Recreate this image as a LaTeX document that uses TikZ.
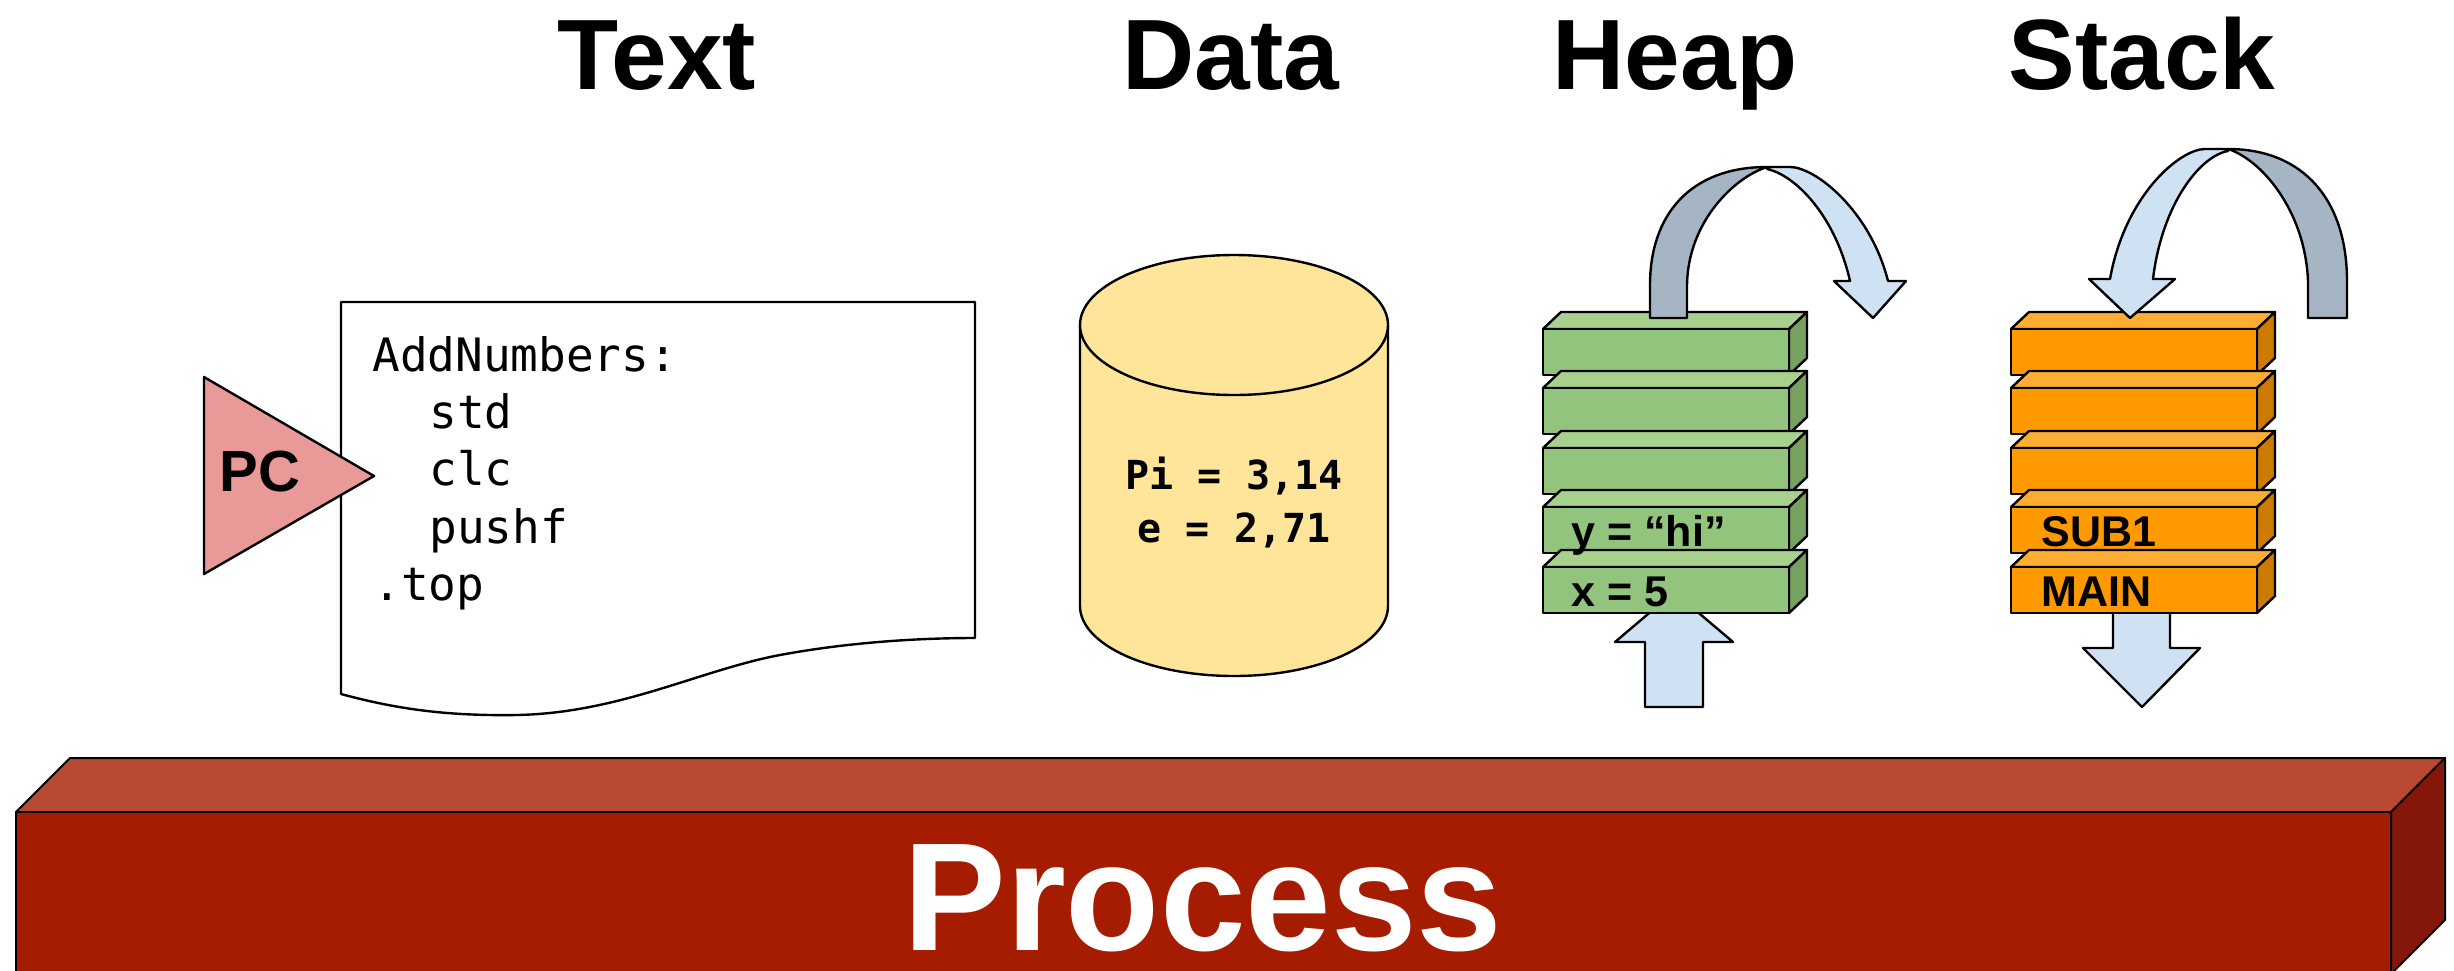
\documentclass[tikz,border=0pt]{standalone}
\usepackage{fontspec}
\setmainfont{Liberation Sans}
\newfontfamily\codefont{DejaVu Sans Mono}

\definecolor{pcred}{HTML}{EA9999}
\definecolor{datayellow}{HTML}{FFE599}
\definecolor{heapfront}{HTML}{93C47D}
\definecolor{heaptop}{HTML}{A9D18E}
\definecolor{heapside}{HTML}{76A15F}
\definecolor{stackfront}{HTML}{FF9900}
\definecolor{stacktop}{HTML}{FFAD33}
\definecolor{stackside}{HTML}{CC7A00}
\definecolor{arrowlight}{HTML}{CFE2F3}
\definecolor{arrowdark}{HTML}{A6B5C4}
\definecolor{procfront}{HTML}{A61C00}
\definecolor{proctop}{HTML}{B84A33}
\definecolor{procside}{HTML}{85160A}

% one 3D memory slot: front face at (#1,#2), width 246, height 46
\newcommand{\drawslab}[5]{%
  \draw[outline, fill=#4] (#1,#2) -- ++(18,-17) -- ++(246,0) -- ++(-18,17) -- cycle;
  \draw[outline, fill=#5] (#1+246,#2) -- ++(18,-17) -- ++(0,46) -- ++(-18,17) -- cycle;
  \draw[outline, fill=#3] (#1,#2) rectangle ++(246,46);
}

\begin{document}
\begin{tikzpicture}[x=0.5pt,y=-0.5pt,
  outline/.style={draw=black, line width=1.2pt, line join=round},
  title/.style={font=\fontsize{50}{60}\selectfont\bfseries, anchor=base, inner sep=0pt},
  codeline/.style={font=\codefont\fontsize{23}{28}\selectfont, anchor=base west, inner sep=0pt},
  dataline/.style={font=\codefont\bfseries\fontsize{20}{24}\selectfont, anchor=base, inner sep=0pt},
  slotlabel/.style={font=\fontsize{21.5}{26}\selectfont\bfseries, anchor=base west, inner sep=0pt}]

\useasboundingbox (0,0) rectangle (2454,970);

% ---------- titles ----------
\node[title] (ttext)  at (657,89)  {Text};
\node[title] (tdata)  at (1231,89) {Data};
\node[title] (theap)  at (1675,89) {Heap};
\node[title] (tstack) at (2142,89) {Stack};

% ---------- text segment: code page ----------
\draw[outline, fill=white] (341,302) -- (975,302) -- (975,638)
  .. controls (920,638) and (850,642) .. (780,655)
  .. controls (700,670) and (620,713) .. (517,715)
  .. controls (450,716) and (400,710) .. (341,694) -- cycle;
\node[codeline] (c1) at (372,371) {AddNumbers:};
\node[codeline] (c2) at (429,428) {std};
\node[codeline] (c3) at (429,485) {clc};
\node[codeline] (c4) at (429,543) {pushf};
\node[codeline] (c5) at (373,600) {.top};

% program counter marker
\draw[outline, fill=pcred] (204,377) -- (374,476) -- (204,574) -- cycle;
\node[font=\fontsize{29}{34}\selectfont\bfseries, anchor=base west, inner sep=0pt] (pc) at (219,491) {PC};

% ---------- data segment: cylinder ----------
\fill[datayellow] (1080,325) -- (1080,606) arc[start angle=180, end angle=0, x radius=154, y radius=70] -- (1388,325) -- cycle;
\draw[outline] (1080,325) -- (1080,606) arc[start angle=180, end angle=0, x radius=154, y radius=70] -- (1388,325);
\draw[outline, fill=datayellow] (1234,325) ellipse[x radius=154, y radius=70];
\node[dataline] (d1) at (1234,489) {Pi = 3,14};
\node[dataline] (d2) at (1234,542) {e = 2,71};

% ---------- heap ----------
\draw[outline, fill=arrowlight] (1645,707) -- (1703,707) -- (1703,642) -- (1733,642)
  -- (1674,592) -- (1615,642) -- (1645,642) -- cycle;
\drawslab{1543}{329}{heapfront}{heaptop}{heapside}
\drawslab{1543}{388}{heapfront}{heaptop}{heapside}
\drawslab{1543}{448}{heapfront}{heaptop}{heapside}
\drawslab{1543}{507}{heapfront}{heaptop}{heapside}
\drawslab{1543}{567}{heapfront}{heaptop}{heapside}
\node[slotlabel] (hy) at (1571,546) {y = “hi”};
\node[slotlabel] (hx) at (1571,606) {x = 5};

% twisted curved arrow over the heap
\draw[outline, fill=arrowdark] (1650,318) -- (1650,285)
  .. controls (1650,215) and (1690,167) .. (1767,167)
  .. controls (1735,177) and (1688,221) .. (1687,285) -- (1687,318) -- cycle;
\draw[outline, fill=arrowlight] (1767,167) -- (1790,167)
  .. controls (1815,167) and (1870,210) .. (1888,281) -- (1906,281) -- (1873,318)
  -- (1834,281) -- (1850,281)
  .. controls (1835,215) and (1795,175) .. (1767,169) -- cycle;

% ---------- stack ----------
\draw[outline, fill=arrowlight] (2113,600) -- (2113,648) -- (2083,648) -- (2142,707)
  -- (2200,648) -- (2170,648) -- (2170,600) -- cycle;
\drawslab{2011}{329}{stackfront}{stacktop}{stackside}
\drawslab{2011}{388}{stackfront}{stacktop}{stackside}
\drawslab{2011}{448}{stackfront}{stacktop}{stackside}
\drawslab{2011}{507}{stackfront}{stacktop}{stackside}
\drawslab{2011}{567}{stackfront}{stacktop}{stackside}
\node[slotlabel] (ssub) at (2041,546) {SUB1};
\node[slotlabel] (smain) at (2041,606) {MAIN};

% twisted curved arrow over the stack
\draw[outline, fill=arrowdark] (2347,318) -- (2347,281)
  .. controls (2347,202) and (2305,149) .. (2228,149)
  .. controls (2260,159) and (2305,209) .. (2308,281) -- (2308,318) -- cycle;
\draw[outline, fill=arrowlight] (2228,149) -- (2205,149)
  .. controls (2180,149) and (2125,195) .. (2110,279) -- (2089,279) -- (2130,318)
  -- (2175,279) -- (2153,279)
  .. controls (2162,204) and (2200,156) .. (2228,151) -- cycle;

% ---------- process block ----------
\draw[outline, line width=1pt, fill=proctop] (16,812) -- (70,758) -- (2445,758) -- (2391,812) -- cycle;
\draw[outline, line width=1pt, fill=procside] (2391,812) -- (2445,758) -- (2445,920) -- (2391,974) -- cycle;
\draw[outline, line width=1pt, fill=procfront] (16,812) rectangle (2391,974);
\node[font=\fontsize{77}{90}\selectfont\bfseries, text=white, anchor=base, inner sep=0pt] (proc) at (1203,950) {Process};

\end{tikzpicture}
\end{document}
